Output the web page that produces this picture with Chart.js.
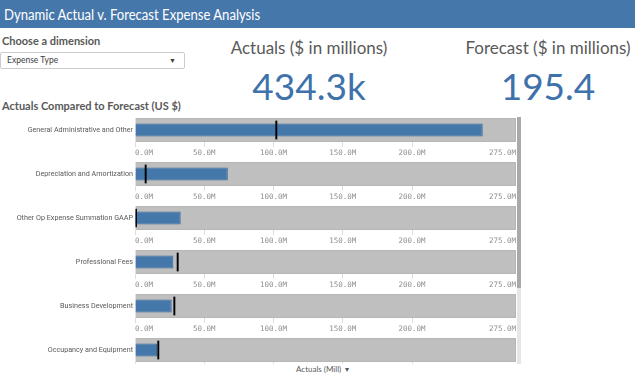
<!DOCTYPE html>
<html>
<head>
<meta charset="utf-8">
<script src="https://cdn.jsdelivr.net/npm/chart.js@4"></script>
<style>
    body { margin: 0; width: 635px; height: 375px; background: #fff; font-family: Lato, "Open Sans", sans-serif; position: relative; overflow: hidden; }
    .header { position: absolute; left: 0; top: 0; width: 635px; height: 28px; background: #4677aa; color: #fff; font-size: 15.5px; line-height: 28px; padding-left: 4px; box-sizing: border-box; }
    .header span { display: inline-block; transform: scaleX(0.845); transform-origin: left center; }
    .label { position: absolute; color: #595959; font-weight: bold; font-size: 11px; }
    .dropdown { position: absolute; left: 0; top: 52px; width: 185px; height: 17px; border: 1px solid #ccc; border-radius: 2px; box-sizing: border-box; font-size: 8.5px; color: #404040; line-height: 15px; padding-left: 6px; }
    .dropdown .arrow { position: absolute; right: 8px; top: 0; font-size: 7px; }
    .kpi-title { position: absolute; color: #595959; font-size: 17px; text-align: center; width: 240px; }
    .kpi-value { position: absolute; color: #3f72ab; font-size: 37px; text-align: center; width: 240px; }
    #rows { position: absolute; left: 0; top: 117px; width: 522px; height: 247px; overflow: hidden; }
    .row { position: absolute; left: 0; width: 516px; height: 44px; }
    .scroll-track { position: absolute; left: 517px; top: 117px; width: 4px; height: 247px; background: #e6e6e6; }
    .scroll-thumb { position: absolute; left: 517px; top: 117px; width: 4px; height: 171px; background: #a9a9a9; }
    .footer { position: absolute; left: 296px; top: 364px; font-size: 8px; color: #595959; }
</style>
</head>
<body>
<div class="header"><span>Dynamic Actual v. Forecast Expense Analysis</span></div>
<div class="label" style="left:2px; top:34px;">Choose a dimension</div>
<div class="dropdown">Expense Type<span class="arrow">&#9660;</span></div>
<div class="kpi-title" style="left:189px; top:37px;">Actuals ($ in millions)</div>
<div class="kpi-value" style="left:189px; top:63px;">434.3k</div>
<div class="kpi-title" style="left:428px; top:37px;">Forecast ($ in millions)</div>
<div class="kpi-value" style="left:428px; top:63px;">195.4</div>
<div class="label" style="left:2px; top:99px;">Actuals Compared to Forecast (US $)</div>
<div id="rows"></div>
<div class="scroll-track"></div>
<div class="scroll-thumb"></div>
<div class="footer">Actuals (Mill) &nbsp;&#9662;</div>

<script>
// Bullet rows: actual vs forecast per expense type (values in millions)
const categories = [
    'General Administrative and Other',
    'Depreciation and Amortization',
    'Other Op Expense Summation GAAP',
    'Professional Fees',
    'Business Development',
    'Occupancy and Equipment'
];
const actuals = [251, 67, 33, 27.7, 26.5, 15.9];
const forecast = [102, 7.7, 0.7, 30.8, 28.4, 16.8];
const tickValues = [0, 50, 100, 150, 200, 275];
const axisMax = 275;

const markerHalf = 0.7;

function buildRow(i) {
    const wrap = document.createElement('div');
    wrap.className = 'row';
    wrap.style.top = (44 * i) + 'px';
    const canvas = document.createElement('canvas');
    canvas.width = 516;
    canvas.height = 44;
    wrap.appendChild(canvas);
    document.getElementById('rows').appendChild(wrap);

    new Chart(canvas, {
        type: 'bar',
        data: {
            labels: [categories[i]],
            datasets: [
                {
                    label: 'Forecast',
                    data: [[forecast[i] - markerHalf, forecast[i] + markerHalf]],
                    backgroundColor: '#000000',
                    barPercentage: 0.78,
                    categoryPercentage: 1,
                    grouped: false,
                    order: 0
                },
                {
                    label: 'Actuals',
                    data: [actuals[i]],
                    backgroundColor: '#4477aa',
                    borderColor: '#3a6a9c',
                    borderWidth: 1,
                    barPercentage: 0.55,
                    categoryPercentage: 1,
                    grouped: false,
                    order: 1
                },
                {
                    label: 'Range',
                    data: [axisMax],
                    backgroundColor: '#bfbfbf',
                    borderColor: '#b3b3b3',
                    borderWidth: 1,
                    barPercentage: 1,
                    categoryPercentage: 1,
                    grouped: false,
                    order: 2
                }
            ]
        },
        options: {
            indexAxis: 'y',
            responsive: false,
            animation: false,
            layout: { padding: { top: 1, right: 0, left: 0, bottom: 0 } },
            plugins: {
                legend: { display: false },
                tooltip: { enabled: false }
            },
            scales: {
                x: {
                    min: 0,
                    max: axisMax,
                    afterBuildTicks: function(scale) {
                        scale.ticks = tickValues.map(v => ({ value: v }));
                    },
                    afterFit: function(scale) {
                        scale.height = 19;
                        scale.paddingLeft = 0;
                        scale.paddingRight = 0;
                    },
                    ticks: {
                        align: 'inner',
                        maxRotation: 0,
                        autoSkip: false,
                        padding: 2,
                        color: '#8f8f8f',
                        font: { family: 'DejaVu Sans Mono', size: 7.5 },
                        callback: function(value) {
                            return value.toFixed(1) + 'M';
                        }
                    },
                    grid: {
                        drawOnChartArea: false,
                        drawTicks: true,
                        tickLength: 5,
                        color: '#dddddd'
                    },
                    border: { display: false }
                },
                y: {
                    afterFit: function(scale) {
                        scale.width = 135;
                        scale.paddingTop = 0;
                        scale.paddingBottom = 0;
                    },
                    ticks: {
                        color: '#595959',
                        padding: 2,
                        font: { family: 'Roboto', size: 7.2 }
                    },
                    grid: { display: false, drawTicks: false, tickLength: 0 },
                    border: { display: false }
                }
            }
        }
    });
}

categories.forEach((c, i) => buildRow(i));
</script>
</body>
</html>
